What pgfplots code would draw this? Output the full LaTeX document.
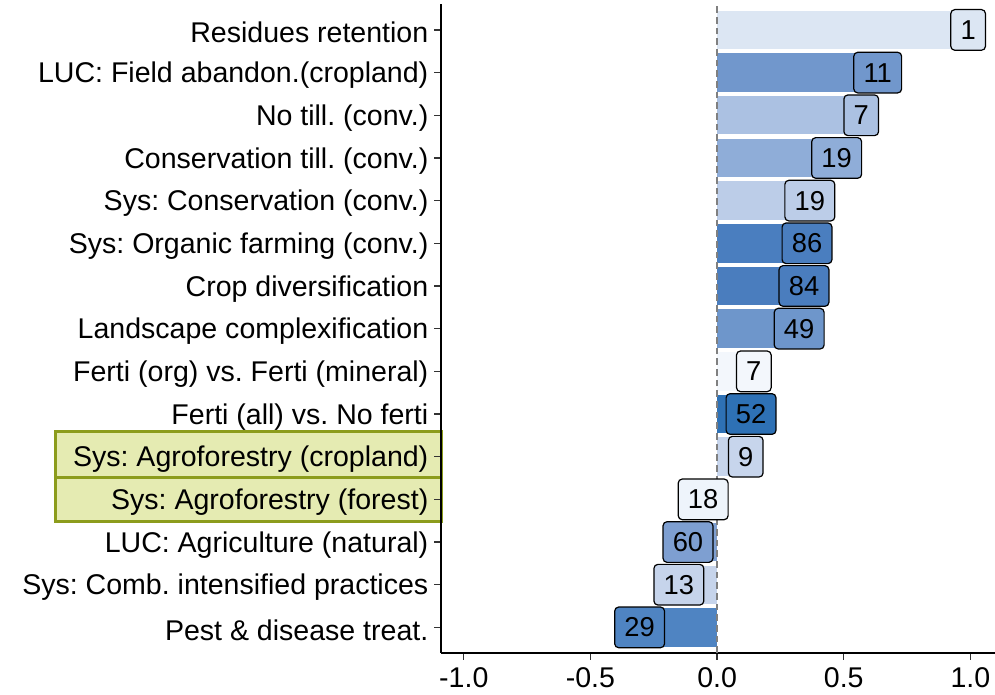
\documentclass[border=0pt]{standalone}
\usepackage{fontspec}
\setmainfont{Liberation Sans}
\usepackage{pgfplots}
\pgfplotsset{compat=1.18}
\frenchspacing
\definecolor{cA}{HTML}{DCE6F3}
\definecolor{cB}{HTML}{7197CC}
\definecolor{cC}{HTML}{ABC1E2}
\definecolor{cD}{HTML}{8FADD8}
\definecolor{cE}{HTML}{BCCDE8}
\definecolor{cF}{HTML}{4A7EBF}
\definecolor{cG}{HTML}{4A7DBE}
\definecolor{cH}{HTML}{6E96CB}
\definecolor{cI}{HTML}{F3F7FC}
\definecolor{cJ}{HTML}{2E71B5}
\definecolor{cK}{HTML}{C7D5EC}
\definecolor{cL}{HTML}{EEF4FB}
\definecolor{cM}{HTML}{7E9FD1}
\definecolor{cN}{HTML}{C6D4EB}
\definecolor{cO}{HTML}{4F84C2}
\definecolor{hlfill}{HTML}{E5EBB2}
\definecolor{hldraw}{HTML}{8C9C1C}
\pgfplotsset{
  barp/.style={xbar, bar width=0.9, bar shift=0pt, fill=#1, draw=none},
  lab/.style 2 args={only marks, mark=none, nodes near coords={#2}, nodes near coords align={center},
    every node near coord/.append style={fill=#1, draw=black, line width=0.9pt, rounded corners=3pt,
      inner xsep=7.3pt, inner ysep=0pt, minimum height=30.5pt, anchor=center, text=black,
      font=\fontsize{20.5}{24}\selectfont}},
}
\begin{document}
\begin{tikzpicture}[x=0.75pt,y=0.75pt]
\useasboundingbox (0,0) rectangle (995,695);
\draw[line width=2.25pt, draw=hldraw, fill=hlfill] (55,217) rectangle (441,263);
\draw[line width=2.25pt, draw=hldraw, fill=hlfill] (55,173) rectangle (441,217);
\begin{axis}[at={(330.75pt,31.5pt)}, anchor=south west, scale only axis,
  width=415.5pt, height=486.5pt, clip=false,
  xmin=-1.09, xmax=1.097, ymin=0.4, ymax=15.6,
  axis x line*=bottom, axis y line*=left,
  axis line style={-, line width=1.1pt, black},
  xtick={-1,-0.5,0,0.5,1}, xticklabels={{-1.0},{-0.5},{0.0},{0.5},{1.0}},
  ytick={1,...,15},
  yticklabels={Pest \& disease treat., Sys: Comb. intensified practices, LUC: Agriculture (natural),
    Sys: Agroforestry (forest), Sys: Agroforestry (cropland), Ferti (all) vs. No ferti,
    Ferti (org) vs. Ferti (mineral), Landscape complexification, Crop diversification,
    Sys: Organic farming (conv.), Sys: Conservation (conv.), Conservation till. (conv.),
    No till. (conv.), LUC: Field abandon.(cropland), Residues retention},
  tick align=outside, major tick length=5pt,
  tick style={line width=1pt, color=black!80},
  ticklabel style={font=\fontsize{21.4}{25}\selectfont, text=black},
  xticklabel style={yshift=-5pt, inner ysep=1pt},
  yticklabel style={xshift=-1pt, yshift=-2pt},
]
\addplot[barp=cA] coordinates {(0.991,15)};
\addplot[barp=cB] coordinates {(0.634,14)};
\addplot[barp=cC] coordinates {(0.569,13)};
\addplot[barp=cD] coordinates {(0.472,12)};
\addplot[barp=cE] coordinates {(0.366,11)};
\addplot[barp=cF] coordinates {(0.355,10)};
\addplot[barp=cG] coordinates {(0.343,9)};
\addplot[barp=cH] coordinates {(0.324,8)};
\addplot[barp=cI] coordinates {(0.145,7)};
\addplot[barp=cJ] coordinates {(0.134,6)};
\addplot[barp=cK] coordinates {(0.113,5)};
\addplot[barp=cL] coordinates {(-0.055,4)};
\addplot[barp=cM] coordinates {(-0.115,3)};
\addplot[barp=cN] coordinates {(-0.151,2)};
\addplot[barp=cO] coordinates {(-0.306,1)};
\draw[gray, line width=1pt, dash pattern=on 5pt off 3pt] (axis cs:0,0.4) -- (axis cs:0,15.6);
\addplot[lab={cA}{1}] coordinates {(0.991,15)};
\addplot[lab={cB}{11}] coordinates {(0.634,14)};
\addplot[lab={cC}{7}] coordinates {(0.569,13)};
\addplot[lab={cD}{19}] coordinates {(0.472,12)};
\addplot[lab={cE}{19}] coordinates {(0.366,11)};
\addplot[lab={cF}{86}] coordinates {(0.355,10)};
\addplot[lab={cG}{84}] coordinates {(0.343,9)};
\addplot[lab={cH}{49}] coordinates {(0.324,8)};
\addplot[lab={cI}{7}] coordinates {(0.145,7)};
\addplot[lab={cJ}{52}] coordinates {(0.134,6)};
\addplot[lab={cK}{9}] coordinates {(0.113,5)};
\addplot[lab={cL}{18}] coordinates {(-0.055,4)};
\addplot[lab={cM}{60}] coordinates {(-0.115,3)};
\addplot[lab={cN}{13}] coordinates {(-0.151,2)};
\addplot[lab={cO}{29}] coordinates {(-0.306,1)};
\end{axis}
\end{tikzpicture}
\end{document}
